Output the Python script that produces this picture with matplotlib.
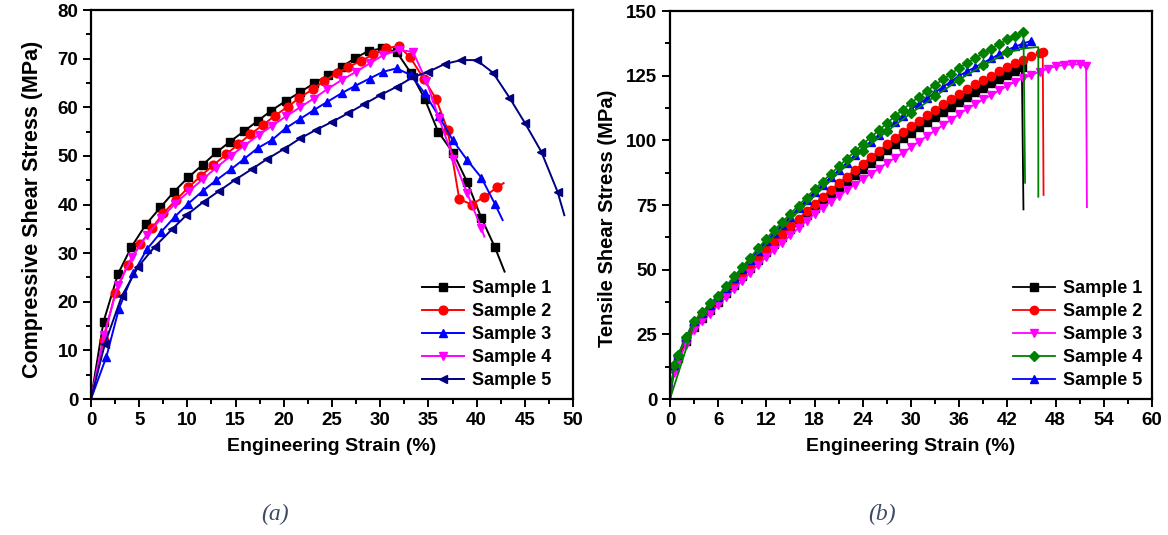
import matplotlib
matplotlib.use("Agg")
import matplotlib.pyplot as plt
from matplotlib.ticker import MultipleLocator

plt.rcParams['font.family'] = ['Liberation Sans', 'DejaVu Sans']
plt.rcParams['font.weight'] = 'bold'

# ---- (a) compressive shear ----
a_labels = ["Sample 1", "Sample 2", "Sample 3", "Sample 4", "Sample 5"]
a1_x = [0, 1.3, 2.8, 4.2, 5.7, 7.2, 8.6, 10.1, 11.6, 13.0, 14.4, 15.9, 17.3, 18.7, 20.2, 21.7,
        23.1, 24.6, 26.0, 27.4, 28.8, 30.2, 31.7, 33.2, 34.6, 36.0, 37.6, 39.0, 40.5, 41.9, 42.9]
a1_y = [0, 15.9, 25.7, 31.3, 35.9, 39.4, 42.6, 45.6, 48.2, 50.7, 52.9, 55.1, 57.2, 59.3, 61.3, 63.1,
        64.9, 66.6, 68.3, 70.1, 71.6, 72.1, 71.4, 67.0, 61.8, 55.0, 50.5, 44.7, 37.2, 31.2, 26.2]
a2_x = [0, 1.3, 2.5, 3.8, 5.1, 6.3, 7.5, 8.8, 10.1, 11.4, 12.7, 14.0, 15.3, 16.5, 17.8, 19.1, 20.4,
        21.6, 23.0, 24.2, 25.5, 26.7, 28.0, 29.3, 30.6, 31.9, 33.1, 34.5, 35.8, 37.0, 38.2, 39.5,
        40.8, 42.1, 42.8]
a2_y = [0, 12.1, 21.7, 27.6, 31.8, 35.1, 38.2, 40.9, 43.5, 45.9, 48.1, 50.3, 52.4, 54.4, 56.3, 58.3,
        60.1, 61.9, 63.7, 65.4, 67.0, 68.3, 69.5, 70.9, 72.1, 72.6, 70.3, 65.9, 61.7, 55.3, 41.1,
        40.0, 41.6, 43.5, 44.4]
a3_x = [0, 1.6, 2.9, 4.4, 5.8, 7.3, 8.7, 10.1, 11.6, 13.0, 14.5, 15.9, 17.3, 18.8, 20.2, 21.7,
        23.1, 24.5, 26.0, 27.4, 28.9, 30.3, 31.7, 33.2, 34.6, 36.1, 37.5, 39.0, 40.5, 41.9, 42.7]
a3_y = [0, 8.7, 18.6, 25.9, 30.8, 34.4, 37.5, 40.2, 42.8, 45.0, 47.2, 49.4, 51.6, 53.3, 55.7, 57.6,
        59.4, 61.1, 62.9, 64.4, 65.9, 67.3, 68.0, 66.6, 62.9, 58.1, 53.3, 49.2, 45.5, 40.1, 36.8]
a4_x = [0, 1.35, 2.8, 4.3, 5.8, 7.3, 8.7, 10.2, 11.6, 13.0, 14.5, 15.9, 17.4, 18.8, 20.2, 21.7,
        23.1, 24.5, 26.0, 27.5, 28.9, 30.3, 31.9, 33.4, 34.8, 36.1, 37.6, 39.0, 40.5, 40.8]
a4_y = [0, 13.2, 23.4, 29.3, 33.7, 37.2, 40.1, 42.8, 45.2, 47.6, 50.0, 52.1, 54.3, 56.2, 58.1, 60.0,
        61.8, 63.7, 65.6, 67.3, 69.0, 70.7, 71.8, 71.4, 65.3, 57.7, 49.4, 42.4, 35.1, 33.4]
a5_x = [0, 1.45, 3.2, 4.9, 6.6, 8.4, 9.9, 11.7, 13.3, 14.9, 16.7, 18.3, 20.0, 21.7, 23.3, 25.0,
        26.7, 28.3, 30.0, 31.7, 33.4, 35.0, 36.7, 38.4, 40.0, 41.7, 43.4, 45.0, 46.7, 48.4, 49.1]
a5_y = [0, 11.4, 21.2, 27.2, 31.3, 34.9, 37.8, 40.6, 42.8, 45.0, 47.3, 49.4, 51.4, 53.6, 55.3, 57.0,
        58.8, 60.6, 62.5, 64.2, 66.2, 67.3, 68.9, 69.7, 69.7, 67.1, 62.0, 56.8, 50.9, 42.6, 37.8]

# ---- (b) tensile shear ----
b_labels = ["Sample 1", "Sample 2", "Sample 3", "Sample 4", "Sample 5"]
b1_x = [0, 0.5] + list(range(1, 44)) + [43.8, 44.0]
b1_y = [0, 12, 16, 22.5, 28, 31.5, 34.5, 37.5, 41, 44.2, 47.4, 50.6, 53.8, 57, 60, 62.8, 65.7, 68.5,
        71.3, 74, 76.6, 79.2, 81.7, 84.2, 86.6, 89, 91.4, 93.8, 96.2, 98.5, 100.8, 103, 105, 107,
        109, 111, 113, 115, 116.8, 118.6, 120.3, 122, 123.7, 125.4, 127, 128.5, 73.3]
b2_x = [0, 0.5] + list(range(1, 47)) + [46.4, 46.5]
b2_y = [0, 12, 16.5, 23, 28.5, 32, 35, 38, 41.5, 44.8, 48.1, 51.4, 54.7, 58, 61, 63.9, 66.8, 69.7,
        72.6, 75.5, 78.2, 80.8, 83.4, 86, 88.5, 91, 93.5, 96, 98.5, 100.9, 103.2, 105.5, 107.6,
        109.7, 111.8, 113.9, 116, 118, 119.8, 121.6, 123.3, 125, 126.8, 128.5, 129.9, 131.2,
        132.5, 133.6, 134, 78.9]
b3_x = [0, 0.5] + list(range(1, 52)) + [51.8, 51.9]
b3_y = [0, 10, 14.5, 21, 26.5, 30, 33, 36.2, 39.5, 42.6, 45.7, 48.8, 51.9, 54.9, 57.7, 60.5, 63.3,
        66.1, 68.9, 71.6, 74, 76.3, 78.5, 80.7, 82.9, 85.1, 87.1, 89.1, 91.2, 93.2, 95.2, 97.3,
        99.5, 101.7, 103.8, 105.9, 108, 110.2, 112.1, 114, 115.8, 117.5, 119.3, 121.1, 122.7,
        124.1, 125.3, 126.5, 127.7, 128.6, 129.1, 129.4, 129.4, 128.8, 74.2]
b4_x = [0, 0.5] + list(range(1, 45)) + [44.2]
b4_y = [0, 13, 17, 24, 30, 33.5, 37, 40, 43.7, 47.4, 51, 54.7, 58.3, 62, 65.3, 68.5, 71.7, 74.8,
        77.9, 81, 84, 87, 89.9, 92.8, 95.7, 98.5, 101.2, 103.9, 106.6, 109.3, 111.9, 114.5,
        116.8, 119.1, 121.4, 123.6, 125.8, 128, 129.9, 131.8, 133.6, 135.4, 137.2, 139, 140.5,
        141.7, 83.6]
b5_x = [0, 0.5] + list(range(1, 46))
b5_y = [0, 13, 17, 24, 30, 33.3, 36.5, 39.5, 43, 46.6, 50.2, 53.8, 57.4, 61, 64.2, 67.4, 70.5,
        73.7, 76.9, 80, 82.9, 85.7, 88.5, 91.3, 94.2, 97, 99.5, 102, 104.5, 107, 109.5, 112,
        114.2, 116.3, 118.5, 120.7, 122.8, 125, 126.7, 128.3, 130, 131.7, 133.3, 135, 136.3,
        137.5, 138.5]
# second green trace under the blue markers
b4b_x = [0, 3, 6, 9, 12, 15, 18, 21, 24, 27, 30, 33, 36, 39, 42, 44, 45.5, 45.85, 45.85]
b4b_y = [0, 29, 39, 50, 60, 69.5, 78.5, 87.5, 96, 103.5, 110.5, 117, 123.5, 129, 134, 135.5,
         136, 136, 78.2]

fig = plt.figure(figsize=(11.68, 5.35), dpi=100)
ax1 = fig.add_axes([0.0779, 0.2542, 0.4127, 0.7271])
ax2 = fig.add_axes([0.5736, 0.2542, 0.4127, 0.7252])

a_style = [("black", "s"), ("red", "o"), ("blue", "^"), ("magenta", "v"), ("navy", "<")]
a_data = [(a1_x, a1_y), (a2_x, a2_y), (a3_x, a3_y), (a4_x, a4_y), (a5_x, a5_y)]
for (xs, ys), (c, m), lab in zip(a_data, a_style, a_labels):
    ax1.plot(xs, ys, color=c, marker=m, markersize=6.3, lw=1.4, label=lab,
             markevery=slice(1, len(xs) - 1))

b_style = [("black", "s"), ("red", "o"), ("magenta", "v"), ("green", "D"), ("blue", "^")]
b_data = [(b1_x, b1_y), (b2_x, b2_y), (b3_x, b3_y), (b4_x, b4_y), (b5_x, b5_y)]
order = [0, 1, 2, 4, 3]
handles = {}
for i in order:
    xs, ys = b_data[i]
    c, m = b_style[i]
    ms = {"s": 5.2, "o": 6, "v": 6, "D": 5.2, "^": 6}[m]
    n = len(xs) - (1 if i != 4 else 0)
    ln, = ax2.plot(xs, ys, color=c, marker=m, markersize=ms, lw=1.3, label=b_labels[i],
                   markevery=slice(1, n))
    handles[i] = ln
    if i == 4:
        ax2.plot(b4b_x, b4b_y, color="green", marker="D", markersize=5.5, lw=1.3,
                 markevery=slice(8, 15))

for ax in (ax1, ax2):
    for s in ax.spines.values():
        s.set_linewidth(1.6)
    ax.tick_params(which="both", direction="out", top=False, right=False, width=1.4,
                   labelsize=13.5)
    ax.tick_params(which="major", length=6, pad=3)
    ax.tick_params(which="minor", length=3.5)
    ax.set_xlabel("Engineering Strain (%)", fontsize=14, fontweight="bold", labelpad=7)

ax1.set_xlim(0, 50)
ax1.set_ylim(0, 80)
ax1.xaxis.set_major_locator(MultipleLocator(5))
ax1.xaxis.set_minor_locator(MultipleLocator(2.5))
ax1.yaxis.set_major_locator(MultipleLocator(10))
ax1.yaxis.set_minor_locator(MultipleLocator(5))
ax1.set_ylabel("Compressive Shear Stress (MPa)", fontsize=15.5, fontweight="bold")
ax1.yaxis.set_label_coords(-0.099, 0.488)

ax2.set_xlim(0, 60)
ax2.set_ylim(0, 150)
ax2.xaxis.set_major_locator(MultipleLocator(6))
ax2.xaxis.set_minor_locator(MultipleLocator(3))
ax2.yaxis.set_major_locator(MultipleLocator(25))
ax2.yaxis.set_minor_locator(MultipleLocator(12.5))
ax2.set_ylabel("Tensile Shear Stress (MPa)", fontsize=14.5, fontweight="bold")
ax2.yaxis.set_label_coords(-0.11, 0.467)

leg_kw = dict(frameon=False, fontsize=13, handlelength=2.3, handletextpad=0.45,
              labelspacing=0.33, loc="lower right", borderaxespad=0.4)
ax1.legend(bbox_to_anchor=(0.985, -0.012), **leg_kw)
ax2.legend([handles[i] for i in range(5)], b_labels, bbox_to_anchor=(1.01, -0.012), **leg_kw)

fig.text(0.2354, 0.028, "(a)", fontsize=17, style="italic", fontweight="normal",
         family="Liberation Serif", color="#3d4a66", ha="center")
fig.text(0.7551, 0.028, "(b)", fontsize=17, style="italic", fontweight="normal",
         family="Liberation Serif", color="#3d4a66", ha="center")

fig.savefig("out.png", dpi=100)
